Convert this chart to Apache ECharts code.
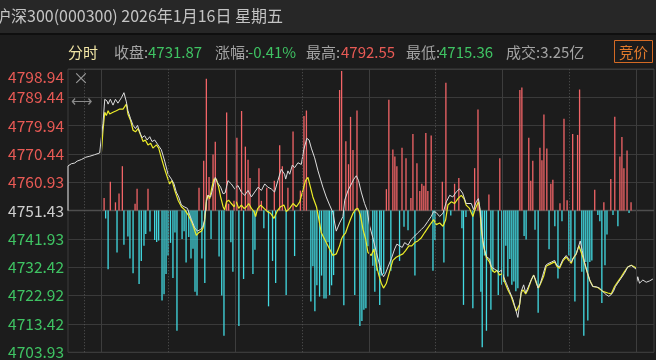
<!DOCTYPE html>
<html><head><meta charset="utf-8">
<script src="https://cdn.jsdelivr.net/npm/echarts@6/dist/echarts.min.js"></script>
<style>html,body{margin:0;padding:0;background:#1b1b1b;}#c{width:656px;height:360px;}</style>
</head><body><div id="c"></div>
<script>
// ---- data ----
const headerTitle = '沪深300(000300) 2026年1月16日 星期五';
const statLabels = ['收盘:', '涨幅:', '最高:', '最低:', '成交:'];
const statValues = ['4731.87', '-0.41%', '4792.55', '4715.36', '3.25亿'];
const prevClose = 4751.43;
const yTickLabels = ['4703.93','4713.42','4722.92','4732.42','4741.93','4751.43','4760.93','4770.44','4779.94','4789.44','4798.94'];
// time = minutes from 9:30 (negative = call auction 9:15-9:30), value = index points
const weightedLine = [[-15,4751.43],[-15,4766.41],[-13.5,4767.16],[-12,4767.39],[-10.9,4768.04],[-9,4768.57],[-7,4769.35],[-5.2,4769.68],[-3,4770.21],[-0.8,4770.76],[0,4770.99],[0.7,4780.60],[1.5,4788.79],[2.5,4788.23],[3.0,4787.15],[4.0,4788.79],[5.2,4786.82],[6.3,4788.79],[7.4,4787.48],[9.0,4789.34],[10.1,4791.0],[11.2,4787.90],[11.9,4784.95],[13.1,4782.23],[14.2,4780.04],[15.3,4778.96],[16.2,4780.04],[17.2,4777.87],[18.2,4775.91],[19.4,4776.56],[20.5,4775.12],[21.7,4776.24],[22.7,4774.60],[23.9,4775.12],[25.4,4773.48],[26.9,4771.85],[28.4,4768.04],[29.9,4763.65],[31.4,4762.01],[32.6,4760.38],[33.6,4757.66],[34.7,4756.02],[35.9,4753.30],[37.1,4752.74],[38.6,4752.18],[40.4,4748.38],[41.9,4745.63],[43.1,4744.55],[44.5,4745.11],[45.6,4746.19],[46.3,4748.38],[47.1,4754.38],[47.8,4756.57],[49.0,4756.02],[50.1,4759.29],[51.1,4762.57],[52.0,4760.93],[52.6,4761.49],[53.5,4759.29],[54.6,4757.10],[55.5,4757.33],[56.8,4761.49],[58.3,4760.38],[59.8,4758.74],[61.3,4759.85],[62.8,4757.66],[64.3,4756.57],[65.8,4758.21],[67.3,4756.02],[68.8,4757.66],[70.3,4759.29],[71.8,4758.21],[73.3,4760.38],[74.7,4759.29],[76.2,4758.74],[77.7,4757.66],[79.2,4761.49],[80.7,4765.29],[82.2,4763.65],[82.7,4762.01],[83.7,4764.77],[84.5,4763.65],[85.7,4766.73],[86.7,4765.85],[88.2,4767.49],[89.7,4766.93],[90.8,4771.85],[92.2,4775.68],[93.2,4775.12],[94.2,4772.40],[95.7,4769.13],[97.2,4764.77],[98.3,4762.01],[99.4,4759.29],[100.9,4756.02],[102.4,4753.30],[103.9,4750.77],[104.7,4747.27],[105.4,4744.55],[106.1,4745.20],[106.9,4747.27],[108.4,4749.46],[109.2,4754.94],[110.7,4758.21],[112.2,4760.38],[113.3,4762.01],[114.4,4763.13],[115.4,4761.49],[116.6,4757.66],[118.1,4753.82],[119.2,4751.66],[120.4,4746.19],[121.8,4742.35],[123.4,4737.44],[124.9,4733.08],[125.6,4730.88],[126.6,4729.24],[127.5,4730.36],[128.6,4732.52],[130.1,4735.27],[131.6,4738.55],[132.6,4740.19],[133.8,4739.63],[135.0,4739.08],[136.1,4740.71],[137.6,4739.86],[139.1,4741.83],[140.6,4742.91],[142.0,4743.99],[143.6,4745.11],[145.0,4746.19],[146.5,4747.83],[148.0,4749.46],[149.1,4751.10],[150.3,4750.77],[151.8,4749.46],[153.3,4750.55],[154.8,4754.38],[156.3,4756.57],[157.7,4756.02],[159.2,4757.66],[160.7,4758.74],[162.1,4757.33],[163.7,4753.82],[166.0,4753.82],[167.0,4751.76],[168.2,4754.38],[169.2,4755.46],[170.0,4751.66],[170.5,4747.27],[171.2,4741.27],[172.0,4738.00],[173.0,4735.80],[174.2,4735.27],[175.0,4732.52],[177.2,4731.44],[178.3,4730.79],[179.5,4731.44],[180.5,4729.25],[181.7,4727.08],[183.2,4724.33],[184.7,4721.61],[185.9,4718.33],[186.9,4715.61],[187.7,4719.97],[188.4,4724.33],[189.5,4726.53],[190.4,4723.81],[191.4,4725.54],[192.9,4728.16],[194.0,4729.80],[194.9,4728.16],[195.9,4725.44],[197.0,4727.08],[198.1,4729.80],[199.4,4733.08],[200.4,4733.64],[201.9,4734.16],[203.4,4734.72],[204.4,4733.08],[205.6,4732.52],[207.1,4735.05],[208.6,4736.36],[209.7,4735.27],[210.9,4734.16],[211.9,4735.70],[213.1,4736.91],[214.0,4739.08],[214.9,4741.27],[215.8,4738.00],[216.8,4734.16],[218.0,4730.88],[219.4,4727.61],[220.5,4725.97],[222.1,4725.87],[223.5,4725.44],[225.0,4724.33],[226.5,4723.25],[227.7,4722.69],[228.8,4723.25],[229.8,4724.33],[230.7,4725.97],[231.7,4727.08],[233.2,4728.72],[234.7,4730.36],[236.2,4732.52],[237.8,4733.08],[239.3,4732.19],[240.0,4731.77]];
const unweightedLine = [[0,4770.99],[0.7,4778.40],[1.5,4784.43],[2.2,4783.31],[3.0,4784.95],[3.7,4783.87],[5.2,4784.43],[6.7,4784.95],[8.2,4785.51],[9.7,4785.51],[11.2,4787.15],[11.9,4783.87],[13.1,4781.67],[14.2,4778.40],[15.3,4777.87],[16.4,4778.96],[17.6,4776.76],[18.7,4774.60],[19.7,4775.12],[20.9,4773.48],[22.1,4774.04],[23.1,4772.40],[24.7,4773.48],[25.7,4772.40],[26.9,4769.13],[28.4,4765.29],[29.6,4762.57],[30.6,4760.38],[31.7,4761.49],[32.9,4758.21],[34.4,4754.94],[35.9,4752.74],[37.4,4751.66],[38.9,4750.02],[40.4,4747.83],[41.5,4745.63],[42.6,4743.14],[43.6,4743.99],[44.9,4744.55],[45.6,4745.63],[46.3,4747.83],[46.8,4751.66],[47.1,4754.94],[47.8,4756.57],[48.6,4755.46],[49.6,4759.29],[50.5,4762.01],[51.6,4762.01],[52.6,4759.29],[53.5,4756.02],[54.6,4752.74],[55.3,4751.66],[56.1,4754.38],[57.1,4754.94],[58.3,4753.82],[59.5,4752.74],[60.6,4754.38],[61.6,4752.18],[62.8,4753.30],[64.0,4752.18],[65.1,4752.74],[66.1,4753.82],[67.3,4752.18],[68.5,4751.10],[69.2,4749.46],[70.1,4752.08],[71.5,4753.30],[73.0,4752.18],[74.5,4751.10],[75.9,4750.55],[77.4,4748.81],[79.0,4751.43],[80.4,4752.74],[81.9,4753.30],[83.0,4751.10],[84.5,4752.18],[86.0,4753.82],[87.5,4752.74],[89.0,4754.38],[90.4,4758.21],[91.6,4761.49],[92.7,4762.57],[93.8,4759.29],[94.9,4756.02],[96.5,4752.74],[97.2,4750.12],[98.7,4743.99],[100.9,4740.71],[102.4,4738.55],[103.9,4736.36],[105.4,4736.91],[106.9,4739.63],[107.7,4741.83],[108.4,4742.91],[109.6,4743.99],[110.6,4746.19],[111.7,4748.38],[112.9,4750.55],[114.1,4751.86],[115.1,4752.18],[116.2,4750.02],[117.4,4745.11],[118.6,4741.83],[119.6,4737.44],[121.1,4736.36],[122.3,4738.55],[123.4,4733.08],[124.5,4729.80],[125.6,4727.08],[126.6,4725.44],[127.9,4727.08],[129.3,4730.88],[130.8,4734.72],[132.3,4735.80],[133.8,4736.36],[135.3,4736.91],[136.5,4738.00],[138.0,4739.63],[139.3,4739.63],[140.6,4740.71],[142.0,4741.27],[143.6,4742.35],[145.0,4743.99],[146.5,4745.63],[148.0,4747.27],[149.1,4748.38],[150.3,4746.74],[151.8,4747.27],[153.3,4746.19],[154.5,4748.38],[155.5,4753.30],[157.0,4754.38],[158.5,4753.82],[160.0,4755.46],[161.5,4756.57],[162.8,4755.36],[163.7,4753.30],[165.2,4752.18],[166.7,4749.46],[167.5,4751.43],[168.5,4753.30],[169.3,4754.38],[170.0,4750.55],[170.5,4745.11],[171.5,4739.63],[172.7,4735.80],[174.2,4734.16],[175.4,4731.44],[176.4,4730.69],[177.5,4731.44],[178.7,4729.80],[179.9,4730.36],[180.9,4727.61],[182.4,4724.89],[183.9,4722.69],[185.1,4719.97],[186.2,4717.78],[186.9,4717.25],[187.7,4719.97],[188.4,4723.81],[189.2,4724.89],[190.4,4723.48],[191.4,4724.89],[192.9,4728.16],[194.0,4729.80],[195.2,4727.08],[196.2,4725.44],[197.4,4727.51],[198.5,4729.47],[199.6,4732.75],[200.7,4733.24],[202.0,4733.73],[203.4,4734.23],[204.4,4732.75],[205.6,4732.10],[207.1,4734.55],[208.6,4735.87],[209.7,4734.72],[210.9,4733.73],[211.6,4735.27],[213.1,4736.91],[214.3,4739.63],[215.0,4740.19],[216.1,4735.80],[217.3,4732.52],[219.1,4728.16],[220.6,4725.97],[222.8,4725.64],[225.0,4724.33],[227.3,4723.81],[228.8,4723.48],[230.3,4725.97],[231.8,4727.61],[233.3,4729.25],[234.7,4730.88],[236.2,4732.52],[237.8,4733.08],[239.3,4732.52],[240.0,4732.10]];
const afterHoursLine = [[240.3,4727.61],[240.7,4729.25],[241.5,4727.08],[243.0,4728.16],[244.5,4727.41],[246.0,4727.84],[247.5,4728.49]];
// indicator bars (positive = red, negative = cyan)
const flowBars = [[1.2,13],[4.0,29.5],[6.3,8.5],[7.9,17.5],[9.4,45.5],[15.1,7],[16.0,22.5],[20.9,22.5],[43.8,23.5],[45.9,51],[47.1,135],[48.3,34.5],[50.1,57.5],[51.1,70.5],[56.2,100.5],[57.1,7],[59.5,10],[60.8,74.5],[62.9,102],[64.6,65.5],[65.8,52],[66.7,33.5],[70.7,43.5],[71.8,10],[74.2,23.5],[77.6,30.5],[80.0,67],[81.2,45.5],[83.7,23.5],[86.0,81],[89.3,20.5],[90.9,97],[92.0,102.5],[106.9,123.5],[107.8,143],[109.7,71],[110.9,47.5],[111.8,96],[112.9,62],[114.7,102.5],[127.9,22],[129.0,113.5],[130.8,62.5],[131.7,55.5],[132.6,45.5],[134.9,64.5],[136.7,53.5],[138.9,13],[139.8,78.5],[141.6,48.5],[142.9,20],[143.8,27.5],[144.7,25.5],[145.6,79.5],[146.5,20],[148.0,77],[153.0,29.5],[154.6,131],[158.5,27.5],[160.4,33.5],[167.5,43.5],[169.0,103.5],[173.9,16.5],[178.8,53.5],[187.8,123.5],[188.7,126],[191.8,74.5],[192.7,30.5],[193.6,51],[196.8,64.5],[197.7,51.5],[198.6,98.5],[199.9,63.5],[201.7,27.5],[202.6,31.5],[205.8,7.5],[207.6,94],[209.0,10.5],[211.5,78.5],[213.7,77.5],[214.6,124],[221.4,21.5],[225.5,8.5],[228.6,32.5],[230.4,96],[232.7,55.5],[233.6,75.5],[234.5,43.5],[235.9,61.5],[237.7,8.5],
[1.9,-8],[3.0,-60],[7.0,-43],[10.1,-35],[11.9,-26.5],[12.8,-49],[14.2,-64],[16.9,-75],[17.9,-51.5],[19.1,-36],[19.9,-24],[21.8,-21.5],[23.9,-30],[24.8,-32],[25.7,-30.5],[27.2,-92],[28.1,-85.5],[29.0,-65],[29.9,-46],[31.0,-33],[32.1,-69],[33.0,-22.5],[33.9,-123],[36.2,-29],[37.1,-21],[38.0,-53],[39.2,-27],[40.2,-49],[41.1,-39],[42.0,-83],[42.9,-87],[45.1,-49],[46.4,-74],[49.2,-29],[52.8,-47],[54.0,-87],[55.0,-128],[58.1,-32.5],[59.0,-62.5],[61.7,-118],[63.8,-70],[68.0,-65],[68.9,-40],[72.9,-18],[75.0,-98],[76.8,-51.5],[78.2,-74],[82.9,-86.5],[86.7,-46.5],[94.0,-93],[94.9,-57],[95.8,-103],[96.7,-76.5],[97.9,-88],[98.8,-66.5],[99.9,-90],[100.8,-90],[101.7,-32.5],[102.4,-86.5],[103.3,-76.5],[104.2,-66],[108.8,-97],[113.7,-86.5],[116.0,-118],[116.9,-113],[117.8,-101.5],[118.7,-100],[119.6,-36.5],[121.8,-56.5],[122.7,-83],[123.6,-61.5],[124.9,-96.5],[125.6,-66.5],[126.7,-65],[129.9,-61.5],[133.8,-51.5],[135.8,-16.5],[137.6,-20],[140.7,-66.5],[148.8,-61.5],[149.7,-30],[153.7,-53],[156.8,-5],[161.8,-18],[162.5,-96.5],[163.6,-6.5],[166.7,-100],[170.3,-83],[170.9,-140],[171.9,-46],[172.8,-123],[174.8,-101.5],[175.7,-62.5],[178.1,-86.5],[179.7,-76],[180.6,-73],[181.5,-36],[182.4,-67.5],[183.3,-49.5],[184.2,-76],[185.1,-72.5],[186.0,-82.5],[186.9,-79.5],[189.7,-26],[190.6,-29.5],[194.6,-19.5],[196.0,-104.5],[200.9,-39.5],[203.5,-16],[204.9,-69.5],[206.7,-11],[209.8,-46],[210.7,-51],[212.5,-93],[215.6,-62.5],[216.5,-128],[217.4,-52.5],[218.3,-112.5],[219.2,-52.5],[220.1,-51],[222.8,-4.5],[223.7,-11],[224.6,-94.5],[226.0,-56],[226.9,-24.5],[229.6,-4.5],[231.8,-16],[236.8,-2.5]];
const solidTimes = [0, 60, 120, 180, 240];
const dottedTimes = [-7.5, 30, 90, 150, 210];

// ---- chart ----
const RED = '#e85a55', GREEN = '#3fc363', GRAY = '#a3a3a3';
const CJK = '"Noto Sans CJK SC", "Noto Sans", sans-serif';
const chart = echarts.init(document.getElementById('c'), null, {renderer: 'canvas'});

function txt(x, y, text, fill, size, extra) {
  return Object.assign({type: 'text', z: 10, style: {x: x, y: y, text: text, fill: fill,
    font: (size || 15) + 'px ' + CJK, verticalAlign: 'middle'}}, extra || {});
}
const statX = [[114, 148], [215, 248], [306, 341], [406, 439], [506, 541]];
const statColors = [GREEN, GREEN, RED, GREEN, GRAY];
const graphics = [
  {type: 'rect', z: -5, shape: {x: 0, y: 0, width: 656, height: 33}, style: {fill: '#272727'}},
  {type: 'rect', z: -5, shape: {x: 0, y: 33, width: 656, height: 2}, style: {fill: '#0f0f0f'}},
  txt(-5, 16, headerTitle, '#c4c4c4', 16),
  txt(68, 52, '分时', '#f2e6a6', 15),
  {type: 'rect', z: 10, shape: {x: 614.5, y: 40.5, width: 38, height: 22}, style: {fill: 'none', stroke: '#d46a24', lineWidth: 1}},
  txt(619, 52, '竞价', '#e07a2c', 14.5),
  txt(73, 78, '×', '#9a9a9a', 16),
  txt(71, 100, '⟷', '#8a8a8a', 15)
];
statLabels.forEach((l, i) => {
  graphics.push(txt(statX[i][0], 52, l, GRAY, 15));
  if (i < 4) graphics.push(txt(statX[i][1], 52, statValues[i], statColors[i], 15));
});
graphics[graphics.length - 1].style.text = statLabels[4] + statValues[4];

const vLines = solidTimes.map(t => ({xAxis: t, lineStyle: {color: '#3d3d3d', type: 'solid', width: 1}}))
  .concat(dottedTimes.map(t => ({xAxis: t, lineStyle: {color: '#555', type: [1, 2], width: 1}})));

chart.setOption({
  animation: false,
  backgroundColor: '#1c1c1c',
  grid: {left: 68, right: 2, top: 69, bottom: 1, show: true, borderColor: '#3d3d3d', borderWidth: 1},
  xAxis: {type: 'value', min: -15, max: 248, show: true, axisLine: {show: false}, axisTick: {show: false},
    axisLabel: {show: false}, splitLine: {show: false}},
  yAxis: [
    {type: 'value', min: 4703.916, max: 4798.944, interval: 9.5028,
      axisLine: {show: false}, axisTick: {show: false},
      splitLine: {show: true, lineStyle: {color: '#3a3a3a', width: 1}},
      axisLabel: {margin: 4, fontSize: 15.5, fontFamily: CJK, verticalAlignMaxLabel: 'top',
        formatter: (v, i) => yTickLabels[i] !== undefined ? yTickLabels[i] : '',
        color: (v) => { const n = Number(v); return n > prevClose + 1 ? RED : (n < prevClose - 1 ? GREEN : '#cfcfcf'); }}},
    {type: 'value', min: -145, max: 145, show: false}
  ],
  series: [
    {type: 'bar', yAxisIndex: 1, barWidth: 1.3, data: flowBars, z: 2,
      itemStyle: {color: (p) => p.value[1] >= 0 ? '#f26467' : '#42dbe3'},
      markLine: {silent: true, symbol: ['none', 'none'], label: {show: false}, animation: false, data: vLines}},
    {type: 'line', yAxisIndex: 0, data: [[-15, prevClose], [248, prevClose]], showSymbol: false, silent: true, z: 1,
      lineStyle: {color: '#4e4e4e', width: 1.5}},
    {type: 'line', data: unweightedLine, showSymbol: false, z: 3, lineStyle: {color: '#ecec28', width: 1.2}},
    {type: 'line', data: weightedLine, showSymbol: false, z: 4, lineStyle: {color: '#dcdcdc', width: 1}},
    {type: 'line', data: afterHoursLine, showSymbol: false, z: 4, lineStyle: {color: '#dcdcdc', width: 1}}
  ],
  graphic: graphics
});
</script></body></html>
